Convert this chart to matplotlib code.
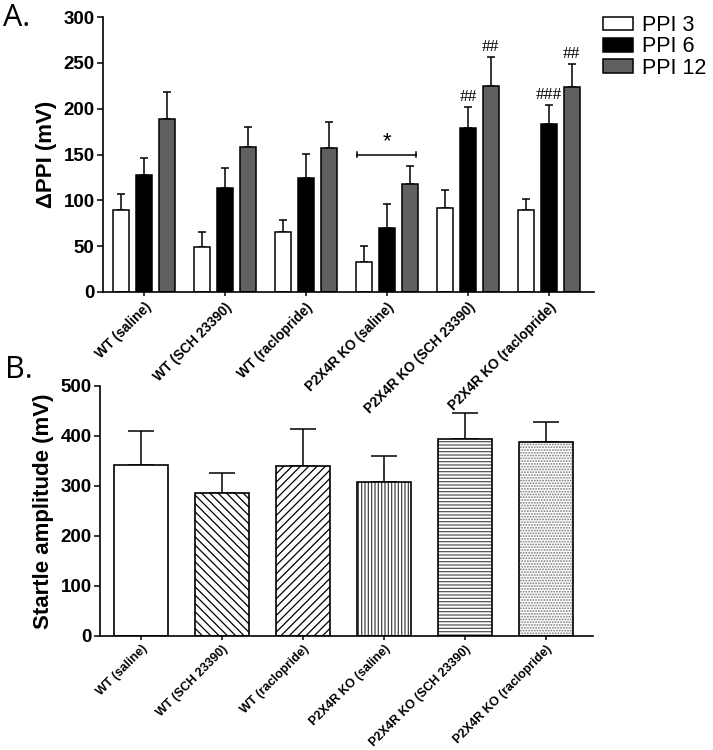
import numpy as np
import matplotlib
matplotlib.use("Agg")
import matplotlib.pyplot as plt
from matplotlib.patches import Patch

plt.rcParams['font.family'] = ['Liberation Sans', 'DejaVu Sans']
plt.rcParams['hatch.linewidth'] = 0.9

groups = ['WT (saline)', 'WT (SCH 23390)', 'WT (raclopride)',
          'P2X4R KO (saline)', 'P2X4R KO (SCH 23390)', 'P2X4R KO (raclopride)']

# panel A: delta PPI (mV), mean and SEM
ppi3 = [90, 49, 66, 33, 92, 89]
ppi3_sem = [17, 16, 13, 17, 19, 13]
ppi6 = [128, 113, 124, 70, 179, 183]
ppi6_sem = [18, 22, 27, 26, 23, 21]
ppi12 = [189, 158, 157, 118, 225, 224]
ppi12_sem = [29, 22, 28, 20, 31, 25]
ppi_labels = ['PPI 3', 'PPI 6', 'PPI 12']

# significance marks (group index, series index, text)
marks = [(4, 1, '##'), (4, 2, '##'), (5, 1, '###'), (5, 2, '##')]

# panel B: startle amplitude (mV)
startle = [343, 287, 341, 309, 394, 388]
startle_sem = [67, 39, 73, 51, 53, 40]

fig = plt.figure(figsize=(7.13, 7.5), dpi=100)
ax_b = fig.add_axes([100 / 713, 1 - 636 / 750, 493 / 713, 250 / 750])
ax_a = fig.add_axes([103 / 713, 1 - 292 / 750, 491 / 713, 275 / 750])
ax_b.patch.set_visible(False)
ax_a.patch.set_visible(False)

x = np.arange(len(groups))
w = 0.2
off = 0.28
cols = ['white', 'black', '#606060']
series = [(ppi3, ppi3_sem), (ppi6, ppi6_sem), (ppi12, ppi12_sem)]
for i, (vals, sem) in enumerate(series):
    xi = x + (i - 1) * off
    ax_a.bar(xi, vals, w, color=cols[i], edgecolor='black', linewidth=1.1, zorder=2)
    ax_a.errorbar(xi, vals, yerr=[np.zeros(len(vals)), sem], fmt='none',
                  ecolor='black', elinewidth=1.1, capsize=3.2, capthick=1.1, zorder=1)

for g, s, txt in marks:
    vals, sem = series[s]
    ax_a.text(g + (s - 1) * off, vals[g] + sem[g] + 11, txt, ha='center', va='center',
              fontsize=12.5, family=['Liberation Serif', 'DejaVu Serif'])

# bracket over KO saline
bx0, bx1, by = 3 - 0.37, 3 + 0.36, 150
ax_a.plot([bx0, bx1], [by, by], color='black', lw=1.1)
ax_a.plot([bx0, bx0], [by - 3, by + 3], color='black', lw=1.1)
ax_a.plot([bx1, bx1], [by - 3, by + 3], color='black', lw=1.1)
ax_a.text(3, by + 14, '*', ha='center', va='center', fontsize=16)

ax_a.set_xlim(-41 / 81, 5 + 45 / 81)
ax_a.set_ylim(0, 300)
ax_a.set_yticks(range(0, 301, 50))
ax_a.set_ylabel('\u0394PPI (mV)', fontsize=16, fontweight='bold', labelpad=5)

hatches = ['', '\\\\\\\\', '////', '|||||', '-----', '......']
hatch_cols = ['black', 'black', 'black', '#444444', '#555555', '#777777']
for i in range(len(groups)):
    ax_b.bar(x[i], startle[i], 0.667, color='white', edgecolor=hatch_cols[i],
             hatch=hatches[i], linewidth=0, zorder=2)
    ax_b.bar(x[i], startle[i], 0.667, fill=False, edgecolor='black', linewidth=1.2, zorder=3)
ax_b.errorbar(x, startle, yerr=[np.zeros(len(startle)), startle_sem], fmt='none',
              ecolor='black', elinewidth=1.1, capsize=9.5, capthick=1.1, zorder=1)
ax_b.set_xlim(-41 / 81, 5 + 47 / 81)
ax_b.set_ylim(0, 500)
ax_b.set_yticks(range(0, 501, 100))
ax_b.set_ylabel('Startle amplitude (mV)', fontsize=16, fontweight='bold', labelpad=5)

for ax, fs, pad in ((ax_a, 9.8, 3), (ax_b, 8.9, 2)):
    for side in ('top', 'right'):
        ax.spines[side].set_visible(False)
    for side in ('left', 'bottom'):
        ax.spines[side].set_linewidth(1.2)
    ax.set_xticks(x)
    ax.set_xticklabels(groups, rotation=45, ha='right', va='top', rotation_mode='anchor',
                       fontsize=fs, fontweight='bold')
    ax.tick_params(axis='x', length=3, width=1.1, pad=pad)
    ax.tick_params(axis='y', length=4, width=1.1, labelsize=13.5, pad=2)
    for lab in ax.get_yticklabels():
        lab.set_fontweight('bold')

handles = [Patch(facecolor=c, edgecolor='black', linewidth=1.1) for c in cols]
fig.legend(handles, ppi_labels, loc='upper left', bbox_to_anchor=(603 / 713, 1 - 15 / 750),
           frameon=False, fontsize=15.5, handlelength=1.4, handleheight=0.6,
           handletextpad=0.4, labelspacing=0.02, borderpad=0, borderaxespad=0)

fig.text(3 / 713, 1 - 18 / 750, 'A.', fontsize=22, va='center', ha='left',
         family=['Open Sans', 'DejaVu Sans'])
fig.text(5 / 713, 1 - 370 / 750, 'B.', fontsize=22, va='center', ha='left',
         family=['Open Sans', 'DejaVu Sans'])

fig.savefig('out.png', dpi=100)
